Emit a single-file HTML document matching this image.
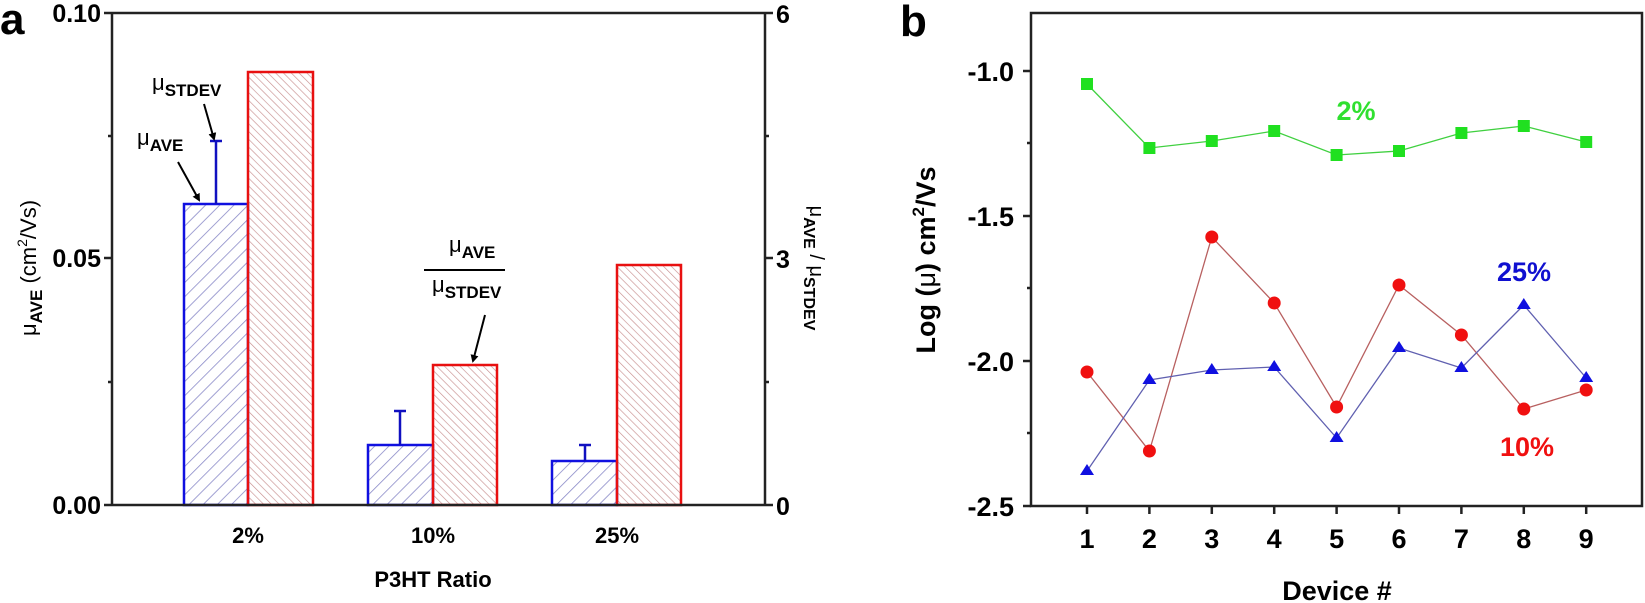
<!DOCTYPE html>
<html><head><meta charset="utf-8"><style>
html,body{margin:0;padding:0;background:#fff}
svg{display:block;font-family:"Liberation Sans",Arial,sans-serif}
.b{font-weight:bold}
</style></head><body>
<svg width="1645" height="603" viewBox="0 0 1645 603" xmlns="http://www.w3.org/2000/svg">
<defs>
<pattern id="hb" patternUnits="userSpaceOnUse" width="10" height="10" patternTransform="rotate(45)">
<line x1="0" y1="0" x2="0" y2="10" stroke="#8a8ac8" stroke-width="1.6"/>
</pattern>
<pattern id="hr" patternUnits="userSpaceOnUse" width="5.5" height="5.5" patternTransform="rotate(-45)">
<line x1="0" y1="0" x2="0" y2="5.5" stroke="#c89090" stroke-width="1.3"/>
</pattern>
<marker id="ar" markerWidth="8" markerHeight="8" refX="6" refY="4" orient="auto" markerUnits="userSpaceOnUse" viewBox="0 0 8 8">
<path d="M0,0 L8,4 L0,8 z" fill="#000"/>
</marker>
</defs>

<!-- Panel a -->
<text x="0" y="34" class="b" font-size="44">a</text>
<!-- bars -->
<g stroke-width="2.5">
<rect x="184" y="204" width="64" height="301" fill="url(#hb)" stroke="#1010e0"/>
<rect x="248" y="72" width="65" height="433" fill="url(#hr)" stroke="#e81010"/>
<rect x="368" y="445" width="65" height="60" fill="url(#hb)" stroke="#1010e0"/>
<rect x="433" y="365" width="64" height="140" fill="url(#hr)" stroke="#e81010"/>
<rect x="552" y="461" width="65" height="44" fill="url(#hb)" stroke="#1010e0"/>
<rect x="617" y="265" width="64" height="240" fill="url(#hr)" stroke="#e81010"/>
</g>
<g stroke="#1010c0" stroke-width="2.5">
<line x1="216" y1="204" x2="216" y2="141"/><line x1="210" y1="141" x2="222" y2="141"/>
<line x1="400" y1="445" x2="400" y2="411"/><line x1="394" y1="411" x2="406" y2="411"/>
<line x1="585" y1="461" x2="585" y2="445"/><line x1="579" y1="445" x2="591" y2="445"/>
</g>
<!-- frame a -->
<g stroke="#222" stroke-width="2.5" fill="none">
<line x1="112" y1="13" x2="112" y2="505"/>
<line x1="112" y1="13" x2="765" y2="13"/>
<line x1="765" y1="13" x2="765" y2="505"/>
<line x1="104" y1="505" x2="773" y2="505"/>
<line x1="104" y1="13" x2="112" y2="13"/><line x1="104" y1="258" x2="112" y2="258"/><line x1="108" y1="136" x2="112" y2="136"/><line x1="108" y1="382" x2="112" y2="382"/>
<line x1="765" y1="13" x2="773" y2="13"/><line x1="765" y1="258" x2="773" y2="258"/><line x1="765" y1="136" x2="769" y2="136"/><line x1="765" y1="382" x2="769" y2="382"/>
</g>
<g class="b" font-size="25" text-anchor="end">
<text x="101" y="22">0.10</text><text x="101" y="267">0.05</text><text x="101" y="514">0.00</text>
</g>
<g class="b" font-size="25">
<text x="776" y="23">6</text><text x="776" y="268">3</text><text x="776" y="515">0</text>
</g>
<g class="b" font-size="22" text-anchor="middle">
<text x="248" y="543">2%</text><text x="433" y="543">10%</text><text x="617" y="543">25%</text>
<text x="433" y="587">P3HT Ratio</text>
</g>
<text transform="translate(36,268) rotate(-90)" text-anchor="middle" font-size="22">μ<tspan class="b" font-size="17" dy="6">AVE</tspan><tspan dy="-6"> (cm</tspan><tspan font-size="14" dy="-9">2</tspan><tspan dy="9">/Vs)</tspan></text>
<text transform="translate(810,268) rotate(90)" text-anchor="middle" font-size="20">μ<tspan class="b" font-size="16" dy="6">AVE</tspan><tspan dy="-6"> / μ</tspan><tspan class="b" font-size="16" dy="6">STDEV</tspan></text>
<!-- annotations -->
<text x="152" y="90" font-size="22">μ<tspan class="b" font-size="17" dy="6">STDEV</tspan></text>
<text x="137" y="145" font-size="22">μ<tspan class="b" font-size="17" dy="6">AVE</tspan></text>
<g stroke="#000" stroke-width="2" marker-end="url(#ar)">
<line x1="204" y1="104" x2="214" y2="139"/>
<line x1="178" y1="162" x2="199" y2="200"/>
<line x1="485" y1="315" x2="473" y2="361"/>
</g>
<text x="449" y="252" font-size="22">μ<tspan class="b" font-size="17" dy="6">AVE</tspan></text>
<line x1="424" y1="270" x2="505" y2="270" stroke="#000" stroke-width="2"/>
<text x="432" y="292" font-size="22">μ<tspan class="b" font-size="17" dy="6">STDEV</tspan></text>

<!-- Panel b -->
<text x="900" y="36" class="b" font-size="44">b</text>
<g stroke="#222" stroke-width="2.5" fill="none">
<rect x="1031" y="13" width="611" height="493"/>
<line x1="1023" y1="71" x2="1031" y2="71"/><line x1="1023" y1="216" x2="1031" y2="216"/><line x1="1023" y1="361" x2="1031" y2="361"/><line x1="1023" y1="506" x2="1031" y2="506"/>
<line x1="1027" y1="143" x2="1031" y2="143"/><line x1="1027" y1="288" x2="1031" y2="288"/><line x1="1027" y1="433" x2="1031" y2="433"/>
<g id="xt">
<line x1="1087" y1="506" x2="1087" y2="514"/><line x1="1149.4" y1="506" x2="1149.4" y2="514"/><line x1="1211.8" y1="506" x2="1211.8" y2="514"/><line x1="1274.2" y1="506" x2="1274.2" y2="514"/><line x1="1336.6" y1="506" x2="1336.6" y2="514"/><line x1="1399" y1="506" x2="1399" y2="514"/><line x1="1461.4" y1="506" x2="1461.4" y2="514"/><line x1="1523.8" y1="506" x2="1523.8" y2="514"/><line x1="1586.2" y1="506" x2="1586.2" y2="514"/>
</g>
</g>
<g class="b" font-size="27" text-anchor="end">
<text x="1014" y="81">-1.0</text><text x="1014" y="226">-1.5</text><text x="1014" y="371">-2.0</text><text x="1014" y="516">-2.5</text>
</g>
<g class="b" font-size="27" text-anchor="middle">
<text x="1087" y="548">1</text><text x="1149.4" y="548">2</text><text x="1211.8" y="548">3</text><text x="1274.2" y="548">4</text><text x="1336.6" y="548">5</text><text x="1399" y="548">6</text><text x="1461.4" y="548">7</text><text x="1523.8" y="548">8</text><text x="1586.2" y="548">9</text>
<text x="1337" y="600" font-size="27">Device #</text>
</g>
<text transform="translate(935,260) rotate(-90)" text-anchor="middle" class="b" font-size="27">Log (<tspan font-weight="normal">μ</tspan>) cm<tspan font-size="17" dy="-11">2</tspan><tspan dy="11">/Vs</tspan></text>

<!-- series -->
<polyline fill="none" stroke="#40d040" stroke-width="1.3" points="1087,84 1149.4,148 1211.8,141 1274.2,131 1336.6,155 1399,151 1461.4,133 1523.8,126 1586.2,142"/>
<polyline fill="none" stroke="#b86060" stroke-width="1.3" points="1087,372 1149.4,451 1211.8,237 1274.2,303 1336.6,407 1399,285 1461.4,335 1523.8,409 1586.2,390"/>
<polyline fill="none" stroke="#6060b0" stroke-width="1.3" points="1087,471 1149.4,380 1211.8,370 1274.2,367 1336.6,438 1399,348 1461.4,368 1523.8,305 1586.2,378"/>
<g fill="#20e020">
<rect x="1081" y="78" width="12" height="12"/><rect x="1143.4" y="142" width="12" height="12"/><rect x="1205.8" y="135" width="12" height="12"/><rect x="1268.2" y="125" width="12" height="12"/><rect x="1330.6" y="149" width="12" height="12"/><rect x="1393" y="145" width="12" height="12"/><rect x="1455.4" y="127" width="12" height="12"/><rect x="1517.8" y="120" width="12" height="12"/><rect x="1580.2" y="136" width="12" height="12"/>
</g>
<g fill="#f01010">
<circle cx="1087" cy="372" r="6.5"/><circle cx="1149.4" cy="451" r="6.5"/><circle cx="1211.8" cy="237" r="6.5"/><circle cx="1274.2" cy="303" r="6.5"/><circle cx="1336.6" cy="407" r="6.5"/><circle cx="1399" cy="285" r="6.5"/><circle cx="1461.4" cy="335" r="6.5"/><circle cx="1523.8" cy="409" r="6.5"/><circle cx="1586.2" cy="390" r="6.5"/>
</g>
<g fill="#1010e0">
<path d="M1087,464 l7,11 h-14z"/><path d="M1149.4,373 l7,11 h-14z"/><path d="M1211.8,363 l7,11 h-14z"/><path d="M1274.2,360 l7,11 h-14z"/><path d="M1336.6,431 l7,11 h-14z"/><path d="M1399,341 l7,11 h-14z"/><path d="M1461.4,361 l7,11 h-14z"/><path d="M1523.8,298 l7,11 h-14z"/><path d="M1586.2,371 l7,11 h-14z"/>
</g>
<g class="b" font-size="27" text-anchor="middle">
<text x="1356" y="120" fill="#30e030">2%</text>
<text x="1524" y="281" fill="#1010d0">25%</text>
<text x="1527" y="456" fill="#f01010">10%</text>
</g>
</svg>
</body></html>
